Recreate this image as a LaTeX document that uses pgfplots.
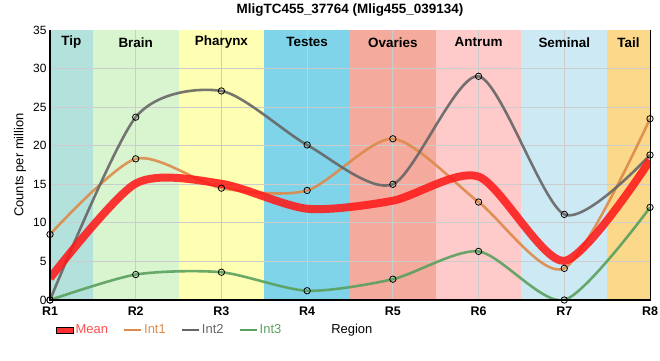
\documentclass[border=0pt]{standalone}
\usepackage{pgfplots}
\pgfplotsset{compat=1.18}
\usepackage{fontspec}
\setmainfont{Liberation Sans}
\setsansfont{Liberation Sans}
\definecolor{cTip}{HTML}{B3E2DC}
\definecolor{cBrain}{HTML}{D9F5D0}
\definecolor{cPhar}{HTML}{FFFFB3}
\definecolor{cTest}{HTML}{80D4EA}
\definecolor{cOva}{HTML}{F4AA9C}
\definecolor{cAnt}{HTML}{FECACA}
\definecolor{cSem}{HTML}{CDEAF4}
\definecolor{cTail}{HTML}{FCD98A}
\definecolor{cMean}{HTML}{FF1A1A}
\definecolor{cMeanTxt}{HTML}{FF4D4D}
\definecolor{cI1}{HTML}{DD8A4A}
\definecolor{cI2}{HTML}{666666}
\definecolor{cI3}{HTML}{5AA05E}
\definecolor{cGrid}{HTML}{CCCCCC}
\begin{document}
\begin{tikzpicture}[x=1bp,y=1bp]
\path[use as bounding box] (-50,-60) rectangle (610,300);
\begin{axis}[
  at={(0,0)}, anchor=south west,
  scale only axis, width=600bp, height=270bp,
  xmin=1, xmax=8, ymin=0, ymax=35,
  xtick={1,...,8}, xticklabels={R1,R2,R3,R4,R5,R6,R7,R8},
  ytick={0,5,...,35},
  axis line style={black, line width=0.8pt},
  major tick length=0pt,
  /pgf/number format/assume math mode=true,
  tick label style={font=\fontsize{12}{13}\selectfont},
  xticklabel style={font=\fontsize{12.5}{13}\selectfont\bfseries, yshift=-3bp},
  xlabel={Region}, xlabel style={at={(axis description cs:0.503,-0.111)}, anchor=center, font=\fontsize{13}{14}\selectfont},
  ylabel={Counts per million}, ylabel style={at={(axis description cs:-0.05,0.5)}, anchor=center, font=\fontsize{13}{14}\selectfont},
  legend style={at={(axis description cs:0.005,-0.111)}, anchor=west, draw=none, fill=none,
     legend columns=4, font=\fontsize{13}{14}\selectfont,
     /tikz/every odd column/.style={column sep=0bp},
     /tikz/every even column/.style={column sep=13bp}},
  legend cell align=left,
  clip mode=individual,
]
% background bands
\fill[cTip] (axis cs:1,0) rectangle (axis cs:1.5,35);
\fill[cBrain] (axis cs:1.5,0) rectangle (axis cs:2.5,35);
\fill[cPhar] (axis cs:2.5,0) rectangle (axis cs:3.5,35);
\fill[cTest] (axis cs:3.5,0) rectangle (axis cs:4.5,35);
\fill[cOva] (axis cs:4.5,0) rectangle (axis cs:5.5,35);
\fill[cAnt] (axis cs:5.5,0) rectangle (axis cs:6.5,35);
\fill[cSem] (axis cs:6.5,0) rectangle (axis cs:7.5,35);
\fill[cTail] (axis cs:7.5,0) rectangle (axis cs:8,35);
% grid
\draw[cGrid, line width=0.8pt] (axis cs:1,5) -- (axis cs:8,5) (axis cs:1,10) -- (axis cs:8,10)
  (axis cs:1,15) -- (axis cs:8,15) (axis cs:1,20) -- (axis cs:8,20) (axis cs:1,25) -- (axis cs:8,25)
  (axis cs:1,30) -- (axis cs:8,30)
  (axis cs:2,0) -- (axis cs:2,35) (axis cs:3,0) -- (axis cs:3,35) (axis cs:4,0) -- (axis cs:4,35)
  (axis cs:5,0) -- (axis cs:5,35) (axis cs:6,0) -- (axis cs:6,35) (axis cs:7,0) -- (axis cs:7,35);
\node[font=\fontsize{13.5}{15}\selectfont\bfseries] at (axis cs:1.25,33.4) {Tip};
\node[font=\fontsize{13.5}{15}\selectfont\bfseries] at (axis cs:2,33.4) {Brain};
\node[font=\fontsize{13.5}{15}\selectfont\bfseries] at (axis cs:3,33.4) {Pharynx};
\node[font=\fontsize{13.5}{15}\selectfont\bfseries] at (axis cs:4,33.4) {Testes};
\node[font=\fontsize{13.5}{15}\selectfont\bfseries] at (axis cs:5,33.4) {Ovaries};
\node[font=\fontsize{13.5}{15}\selectfont\bfseries] at (axis cs:6,33.4) {Antrum};
\node[font=\fontsize{13.5}{15}\selectfont\bfseries] at (axis cs:7,33.4) {Seminal};
\node[font=\fontsize{13.5}{15}\selectfont\bfseries] at (axis cs:7.75,33.4) {Tail};
% legend images
\addlegendimage{area legend, draw=none, fill=cMean, fill opacity=0.9}
\addlegendentry{\textcolor{cMeanTxt}{Mean}}
\addlegendimage{line width=2.2pt, color=cI1}
\addlegendentry{\textcolor{cI1}{Int1}}
\addlegendimage{line width=2.2pt, color=cI2}
\addlegendentry{\textcolor{cI2}{Int2}}
\addlegendimage{line width=2.2pt, color=cI3}
\addlegendentry{\textcolor{cI3}{Int3}}
% lines
\addplot[forget plot, smooth, tension=0.45, color=cI1, line width=2.6pt, opacity=0.9] coordinates {
 (1,8.5) (2,18.3) (3,14.5) (4,14.2) (5,20.9) (6,12.7) (7,4.1) (8,23.5)};
\addplot[forget plot, smooth, tension=0.45, color=cI2, line width=2.6pt, opacity=0.9] coordinates {
 (1,0) (2,23.7) (3,27.1) (4,20.1) (5,15.0) (6,29.0) (7,11.1) (8,18.8)};
\addplot[forget plot, smooth, tension=0.45, color=cI3, line width=2.6pt, opacity=0.9] coordinates {
 (1,0) (2,3.3) (3,3.6) (4,1.2) (5,2.7) (6,6.3) (7,0) (8,12.0)};
\addplot[forget plot, smooth, tension=0.45, color=cMean, line width=8pt, opacity=0.88] coordinates {
 (1,2.83) (2,15.1) (3,15.07) (4,11.83) (5,12.87) (6,16.0) (7,5.07) (8,18.1)};
% markers
\addplot[forget plot, only marks, mark=o, mark size=3.2bp, mark options={black, line width=0.8pt}] coordinates {
 (1,8.5) (2,18.3) (3,14.5) (4,14.2) (5,20.9) (6,12.7) (7,4.1) (8,23.5)};
\addplot[forget plot, only marks, mark=o, mark size=3.2bp, mark options={black, line width=0.8pt}] coordinates {
 (1,0) (2,23.7) (3,27.1) (4,20.1) (5,15.0) (6,29.0) (7,11.1) (8,18.8)};
\addplot[forget plot, only marks, mark=o, mark size=3.2bp, mark options={black, line width=0.8pt}] coordinates {
 (1,0) (2,3.3) (3,3.6) (4,1.2) (5,2.7) (6,6.3) (7,0) (8,12.0)};
\draw[black, line width=1.8pt] (axis description cs:0,1) -- (axis description cs:0,0) -- (axis description cs:1,0);
\node[font=\fontsize{13.5}{15}\selectfont\bfseries, anchor=center] at (axis description cs:0.5,1.074) {MligTC455\_37764 (Mlig455\_039134)};
\end{axis}
\end{tikzpicture}
\end{document}
